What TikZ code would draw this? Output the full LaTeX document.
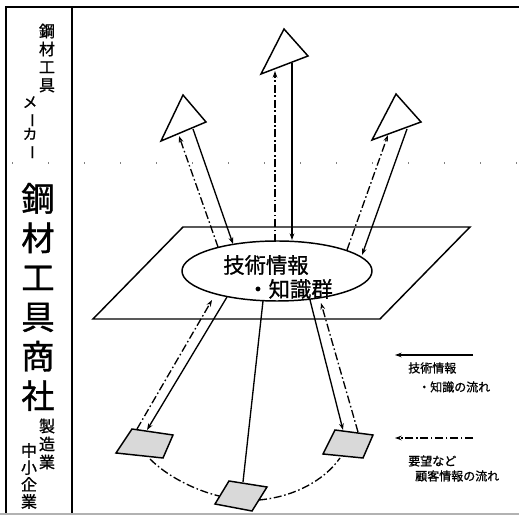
\documentclass[tikz,border=0pt]{standalone}
\usepackage{fontspec}
\newfontfamily\jp[FakeBold=1]{Noto Sans CJK JP}
\usetikzlibrary{arrows.meta,shapes.geometric}
\begin{document}
\begin{tikzpicture}[x=0.75pt,y=-0.75pt,
  frame/.style={line width=1pt},
  conn/.style={line width=1pt},
  dd/.style={line width=1pt, dash pattern=on 6pt off 2pt on 1.2pt off 2pt},
  ddthick/.style={line width=1.4pt, dash pattern=on 6pt off 2pt on 1.2pt off 2pt},
  tip/.style={-{Stealth[length=5pt,width=3.5pt]}},
  head/.style={draw, line width=1.1pt, fill=white, line join=miter},
  pad/.style={draw, line width=1.1pt, fill=black!15, line join=miter},
  vt/.style={align=center, inner sep=0pt},
  lg/.style={font=\jp\fontsize{9}{10}\selectfont, inner sep=0pt, anchor=west},
  ]
\useasboundingbox (0,0) rectangle (519,516);

% frame
\coordinate (fTL) at (6,7);
\coordinate (fBL) at (6,513);
\coordinate (fTR) at (519,7);
\coordinate (dT) at (72,7);
\coordinate (dB) at (72,513);
\coordinate (bL) at (0,514);
\coordinate (bR) at (519,514);
\draw[frame] (fBL) -- (fTL) -- (fTR);
\draw[frame] (dT) -- (dB);
\draw[gray!60, line width=0.8pt] (bL) -- (bR);

% left column texts
\node[vt, font=\jp\fontsize{12}{13.5}\selectfont] (mk1) at (47,58) {鋼\\材\\工\\具};
\node[vt, font=\jp\fontsize{11}{12}\selectfont] (mk2) at (30,128) {メ\\\rotatebox[origin=c]{-90}{ー}\\カ\\\rotatebox[origin=c]{-90}{ー}};
\node[vt, font=\jp\fontsize{25}{29.6}\selectfont] (shosha) at (38,297) {鋼\\材\\工\\具\\商\\社};
\node[vt, font=\jp\fontsize{12}{13.5}\selectfont] (mf1) at (47,444) {製\\造\\業};
\node[vt, font=\jp\fontsize{12}{12.75}\selectfont] (mf2) at (29,476) {中\\小\\企\\業};

% sparse dotted boundary
\coordinate (dl1) at (12,163);
\coordinate (dl2) at (519,163);
\draw[line width=1.2pt, gray, dash pattern=on 1pt off 26pt] (dl1) -- (dl2);

% plane
\coordinate (pTL) at (183,227);
\coordinate (pTR) at (470,227);
\coordinate (pBR) at (380,319);
\coordinate (pBL) at (93,319);
\draw[line width=1.1pt, fill=white, line join=miter] (pTL) -- (pTR) -- (pBR) -- (pBL) -- cycle;

% knowledge ellipse
\node[ellipse, draw, line width=1.1pt, fill=white, minimum width=142.5pt, minimum height=45pt, inner sep=0pt] (kb) at (277,271) {};
\node[font=\jp\fontsize{16}{18}\selectfont, inner sep=0pt] (kbt1) at (266,265) {技術情報};
\node[font=\jp\fontsize{16}{18}\selectfont, inner sep=0pt] (kbt2) at (290,289) {・知識群};

% maker triangles
\coordinate (tA1) at (284,29);
\coordinate (tA2) at (308,56);
\coordinate (tA3) at (261,74);
\draw[head] (tA1) -- (tA2) -- (tA3) -- cycle;
\coordinate (tB1) at (183,95);
\coordinate (tB2) at (206,122);
\coordinate (tB3) at (161,141);
\draw[head] (tB1) -- (tB2) -- (tB3) -- cycle;
\coordinate (tC1) at (396,94);
\coordinate (tC2) at (421,122);
\coordinate (tC3) at (372,140);
\draw[head] (tC1) -- (tC2) -- (tC3) -- cycle;

% upper connectors
\coordinate (uA1) at (275,242);
\coordinate (uA2) at (275,71);
\draw[ddthick, tip] (uA1) -- (uA2);
\coordinate (uA3) at (292,63);
\coordinate (uA4) at (292,240);
\draw[conn, tip] (uA3) -- (uA4);

\coordinate (uB1) at (218,247);
\coordinate (uB2) at (179,136);
\draw[dd, tip] (uB1) -- (uB2);
\coordinate (uB3) at (193,129);
\coordinate (uB4) at (233,244);
\draw[conn, tip] (uB3) -- (uB4);

\coordinate (uC1) at (347,250);
\coordinate (uC2) at (388,135);
\draw[dd, tip] (uC1) -- (uC2);
\coordinate (uC3) at (407,129);
\coordinate (uC4) at (362,255);
\draw[conn, tip] (uC3) -- (uC4);

% small-company pads
\coordinate (sL1) at (132,429);
\coordinate (sL2) at (173,435);
\coordinate (sL3) at (163,458);
\coordinate (sL4) at (116,453);
\draw[pad] (sL1) -- (sL2) -- (sL3) -- (sL4) -- cycle;
\coordinate (sM1) at (229,481);
\coordinate (sM2) at (267,487);
\coordinate (sM3) at (252,511);
\coordinate (sM4) at (215,504);
\draw[pad] (sM1) -- (sM2) -- (sM3) -- (sM4) -- cycle;
\coordinate (sR1) at (335,430);
\coordinate (sR2) at (373,435);
\coordinate (sR3) at (363,458);
\coordinate (sR4) at (323,454);
\draw[pad] (sR1) -- (sR2) -- (sR3) -- (sR4) -- cycle;

% lower connectors
\coordinate (lL1) at (227,297);
\coordinate (lL2) at (147,430);
\draw[conn, tip] (lL1) -- (lL2);
\coordinate (lL3) at (137,429);
\coordinate (lL4) at (212,300);
\draw[dd, tip] (lL3) -- (lL4);
\coordinate (lM1) at (263,301);
\coordinate (lM2) at (243,482);
\draw[conn] (lM1) -- (lM2);
\coordinate (lR1) at (310,300);
\coordinate (lR2) at (343,430);
\draw[conn, tip] (lR1) -- (lR2);
\coordinate (lR3) at (358,432);
\coordinate (lR4) at (321,303);
\draw[dd, tip] (lR3) -- (lR4);

% arcs between pads
\coordinate (aL1) at (150,459);
\coordinate (aL2) at (219,496);
\draw[dd] (aL1) .. controls (168,477) and (195,490) .. (aL2);
\coordinate (aR1) at (259,500);
\coordinate (aR2) at (340,458);
\draw[dd] (aR1) .. controls (292,497) and (323,482) .. (aR2);

% legend
\coordinate (g1a) at (473,355);
\coordinate (g1b) at (395,355);
\draw[line width=0.8pt, tip] (g1a) -- (g1b);
\node[lg] (g1t1) at (408,368) {技術情報};
\node[lg] (g1t2) at (418,387) {・知識の流れ};
\coordinate (g2a) at (473,438);
\coordinate (g2b) at (395,438);
\draw[line width=0.9pt, dash pattern=on 6pt off 2pt on 1.2pt off 2pt, tip] (g2a) -- (g2b);
\node[lg] (g2t1) at (408,461) {要望など};
\node[lg] (g2t2) at (415,476) {顧客情報の流れ};
\end{tikzpicture}
\end{document}
